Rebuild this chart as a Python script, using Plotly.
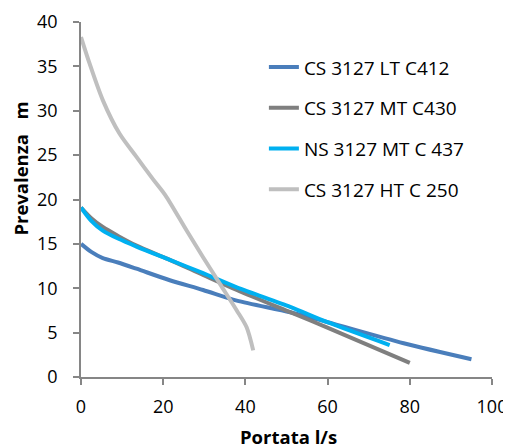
import plotly.graph_objects as go

names = ["CS 3127 LT C412", "CS 3127 MT C430", "NS 3127 MT C 437", "CS 3127 HT C 250"]
colors = ["#4a7ebb", "#7f7f7f", "#00b0f0", "#bfbfbf"]

lt_x = [0, 2.5, 5.3, 9, 13.5, 21.6, 29.7, 37.9, 50.9, 59.8, 78.5, 95]
lt_y = [15.0, 14.1, 13.4, 12.9, 12.2, 10.9, 9.8, 8.6, 7.3, 6.2, 3.8, 2.0]

mt_x = [0, 2.5, 5.3, 9, 13.5, 21.6, 29.7, 37.9, 50.9, 59.8, 80]
mt_y = [19.1, 17.9, 16.9, 15.9, 14.8, 13.2, 11.5, 9.8, 7.3, 5.6, 1.6]

ns_x = [0, 2.5, 5.3, 9, 13.5, 21.6, 29.7, 37.9, 50.9, 59.8, 75.1]
ns_y = [19.1, 17.6, 16.5, 15.6, 14.7, 13.2, 11.7, 10.1, 7.9, 6.2, 3.6]

ht_x = [0, 2.1, 5.3, 9.4, 13.5, 17.5, 20.5, 25.7, 29.7, 33.8, 37.9, 40.3, 41.9]
ht_y = [38.3, 35.3, 31.2, 27.4, 24.8, 22.3, 20.5, 16.5, 13.5, 10.5, 7.5, 5.6, 3.0]

xs = [lt_x, mt_x, ns_x, ht_x]
ys = [lt_y, mt_y, ns_y, ht_y]

fig = go.Figure()
for i in range(4):
    fig.add_trace(go.Scatter(x=xs[i], y=ys[i], mode="lines", name=names[i],
                             legendgroup=str(i),
                             line=dict(color=colors[i], width=4, shape="spline", smoothing=0.8)))

axis_common = dict(showgrid=False, zeroline=False, showline=True, linecolor="#868686", linewidth=1.5,
                   ticks="outside", tickcolor="#868686", ticklen=6, tickwidth=1.5, automargin=False,
                   tickfont=dict(size=18, color="#000000", family="Open Sans"))

# page body has an 8px margin; the figure is sized so the plot area lands at the reference position
fig.update_layout(
    width=503, height=440,
    margin=dict(l=73, r=19, t=14, b=71),
    paper_bgcolor="white", plot_bgcolor="white",
    font=dict(family="Open Sans", color="#000000"),
    xaxis=dict(range=[0, 100], dtick=20, ticklabelstandoff=7, **axis_common),
    yaxis=dict(range=[0, 40], dtick=5, ticklabelstandoff=12, **axis_common),
    legend=dict(x=0.445, y=0.926, xanchor="left", yanchor="top", font=dict(size=19, family="Open Sans"),
                bgcolor="rgba(0,0,0,0)", tracegroupgap=13, itemwidth=30),
    showlegend=True,
    annotations=[
        dict(text="<b>Portata l/s</b>", xref="paper", yref="paper", x=0.504, y=-0.167,
             xanchor="center", yanchor="middle", showarrow=False, font=dict(size=18.5, family="Open Sans")),
        dict(text="<b>Prevalenza&nbsp;&nbsp;&nbsp;m</b>", xref="paper", yref="paper", x=-0.146, y=0.587,
             xanchor="center", yanchor="middle", textangle=-90, showarrow=False,
             font=dict(size=18.5, family="Open Sans")),
    ],
)

fig.write_html("out.html")
